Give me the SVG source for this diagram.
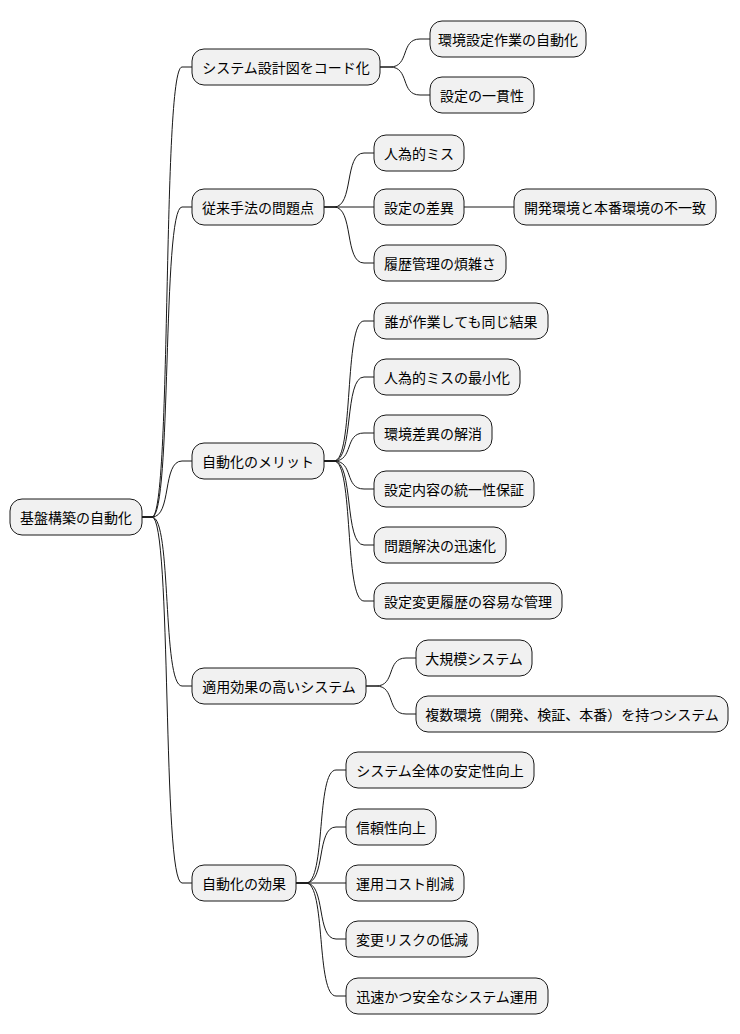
<svg xmlns="http://www.w3.org/2000/svg" width="740" height="1034" viewBox="0 0 740 1034">
<style>
rect{fill:#F1F1F1;stroke:#181818;stroke-width:1}
text{font-family:"Noto Sans CJK JP","Noto Sans",sans-serif;font-size:14px;fill:#000;text-anchor:middle;dominant-baseline:central}
path{fill:none;stroke:#181818;stroke-width:1}
</style>
<rect x="0" y="0" width="740" height="1034" style="fill:#fff;stroke:none"/>
<g id="connectors">
<path d="M142,517 L152,517 C172,517 162,67 182,67 L192,67"/>
<path d="M142,517 L152,517 C172,517 162,207 182,207 L192,207"/>
<path d="M142,517 L152,517 C172,517 162,461 182,461 L192,461"/>
<path d="M142,517 L152,517 C172,517 162,686 182,686 L192,686"/>
<path d="M142,517 L152,517 C172,517 162,883 182,883 L192,883"/>
<path d="M380,67 L390,67 C410,67 400,39 420,39 L430,39"/>
<path d="M380,67 L390,67 C410,67 400,95 420,95 L430,95"/>
<path d="M324,207 L334,207 C354,207 344,153 364,153 L374,153"/>
<path d="M324,207 L374,207"/>
<path d="M324,207 L334,207 C354,207 344,263 364,263 L374,263"/>
<path d="M464,207 L514,207"/>
<path d="M324,461 L334,461 C354,461 344,321 364,321 L374,321"/>
<path d="M324,461 L334,461 C354,461 344,377 364,377 L374,377"/>
<path d="M324,461 L334,461 C354,461 344,433 364,433 L374,433"/>
<path d="M324,461 L334,461 C354,461 344,489 364,489 L374,489"/>
<path d="M324,461 L334,461 C354,461 344,545 364,545 L374,545"/>
<path d="M324,461 L334,461 C354,461 344,601 364,601 L374,601"/>
<path d="M366,686 L376,686 C396,686 386,658 406,658 L416,658"/>
<path d="M366,686 L376,686 C396,686 386,714 406,714 L416,714"/>
<path d="M296,883 L306,883 C326,883 316,770 336,770 L346,770"/>
<path d="M296,883 L306,883 C326,883 316,827 336,827 L346,827"/>
<path d="M296,883 L346,883"/>
<path d="M296,883 L306,883 C326,883 316,939 336,939 L346,939"/>
<path d="M296,883 L306,883 C326,883 316,996 336,996 L346,996"/>
</g>
<g id="root"><rect x="10" y="499" width="132" height="36" rx="12"/><text x="76" y="517">基盤構築の自動化</text></g>
<g id="n1"><rect x="192" y="49" width="188" height="36" rx="12"/><text x="286" y="67">システム設計図をコード化</text></g>
<g id="n1a"><rect x="430" y="21" width="156" height="36" rx="12"/><text x="508" y="39">環境設定作業の自動化</text></g>
<g id="n1b"><rect x="430" y="77" width="104" height="36" rx="12"/><text x="482" y="95">設定の一貫性</text></g>
<g id="n2"><rect x="192" y="189" width="132" height="36" rx="12"/><text x="258" y="207">従来手法の問題点</text></g>
<g id="n2a"><rect x="374" y="135" width="90" height="36" rx="12"/><text x="419" y="153">人為的ミス</text></g>
<g id="n2b"><rect x="374" y="189" width="90" height="36" rx="12"/><text x="419" y="207">設定の差異</text></g>
<g id="n2b1"><rect x="514" y="189" width="202" height="36" rx="12"/><text x="615" y="207">開発環境と本番環境の不一致</text></g>
<g id="n2c"><rect x="374" y="245" width="132" height="36" rx="12"/><text x="440" y="263">履歴管理の煩雑さ</text></g>
<g id="n3"><rect x="192" y="443" width="132" height="36" rx="12"/><text x="258" y="461">自動化のメリット</text></g>
<g id="n3a"><rect x="374" y="303" width="174" height="36" rx="12"/><text x="461" y="321">誰が作業しても同じ結果</text></g>
<g id="n3b"><rect x="374" y="359" width="146" height="36" rx="12"/><text x="447" y="377">人為的ミスの最小化</text></g>
<g id="n3c"><rect x="374" y="415" width="118" height="36" rx="12"/><text x="433" y="433">環境差異の解消</text></g>
<g id="n3d"><rect x="374" y="471" width="160" height="36" rx="12"/><text x="454" y="489">設定内容の統一性保証</text></g>
<g id="n3e"><rect x="374" y="527" width="132" height="36" rx="12"/><text x="440" y="545">問題解決の迅速化</text></g>
<g id="n3f"><rect x="374" y="583" width="188" height="36" rx="12"/><text x="468" y="601">設定変更履歴の容易な管理</text></g>
<g id="n4"><rect x="192" y="668" width="174" height="36" rx="12"/><text x="279" y="686">適用効果の高いシステム</text></g>
<g id="n4a"><rect x="416" y="640" width="116" height="36" rx="12"/><text x="474" y="658">大規模システム</text></g>
<g id="n4b"><rect x="416" y="696" width="312" height="36" rx="12"/><text x="572" y="714">複数環境（開発、検証、本番）を持つシステム</text></g>
<g id="n5"><rect x="192" y="865" width="104" height="36" rx="12"/><text x="244" y="883">自動化の効果</text></g>
<g id="n5a"><rect x="346" y="752" width="188" height="36" rx="12"/><text x="440" y="770">システム全体の安定性向上</text></g>
<g id="n5b"><rect x="346" y="809" width="90" height="36" rx="12"/><text x="391" y="827">信頼性向上</text></g>
<g id="n5c"><rect x="346" y="865" width="118" height="36" rx="12"/><text x="405" y="883">運用コスト削減</text></g>
<g id="n5d"><rect x="346" y="921" width="132" height="36" rx="12"/><text x="412" y="939">変更リスクの低減</text></g>
<g id="n5e"><rect x="346" y="978" width="202" height="36" rx="12"/><text x="447" y="996">迅速かつ安全なシステム運用</text></g>
</svg>
